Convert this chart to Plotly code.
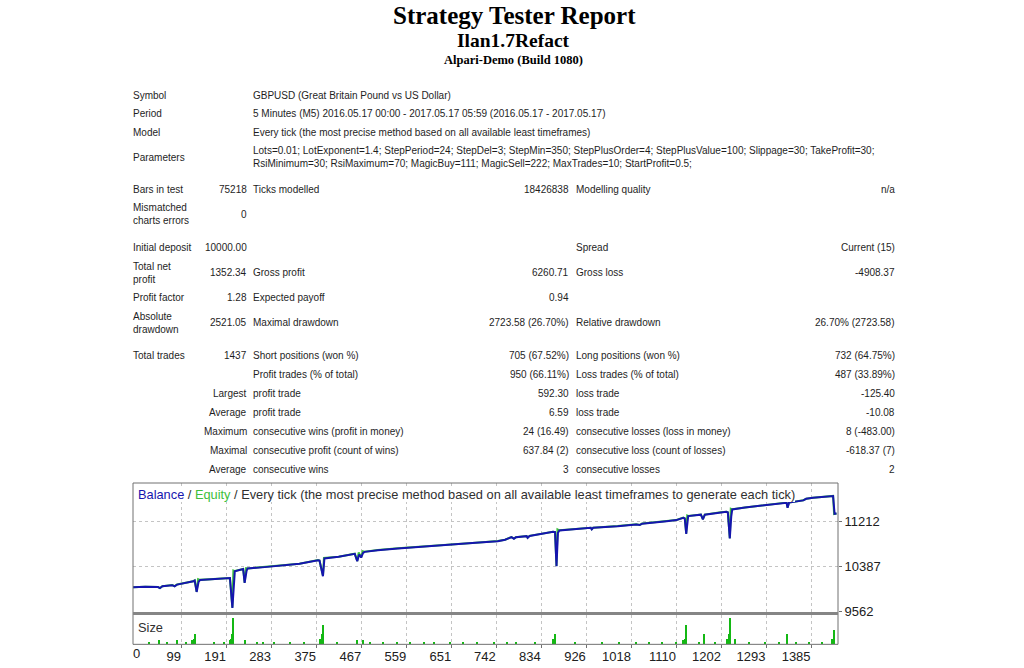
import plotly.graph_objects as go

W, H = 1024, 668
VS = 1.0127   # vertical compensation observed between requested and photographed positions

# ---------------- report header ----------------
title_main = "Strategy Tester Report"
title_ea = "Ilan1.7Refact"
title_server = "Alpari-Demo (Build 1080)"

# ---------------- info block ----------------
info_labels = ["Symbol", "Period", "Model", "Parameters"]
info_values = [
    "GBPUSD (Great Britain Pound vs US Dollar)",
    "5 Minutes (M5) 2016.05.17 00:00 - 2017.05.17 05:59 (2016.05.17 - 2017.05.17)",
    "Every tick (the most precise method based on all available least timeframes)",
    "Lots=0.01; LotExponent=1.4; StepPeriod=24; StepDel=3; StepMin=350; StepPlusOrder=4; "
    "StepPlusValue=100; Slippage=30; TakeProfit=30;<br>"
    "RsiMinimum=30; RsiMaximum=70; MagicBuy=111; MagicSell=222; MaxTrades=10; StartProfit=0.5;",
]

# ---------------- statistics block (6 columns) ----------------
stats_rows = [
    ["Bars in test", "75218", "Ticks modelled", "18426838", "Modelling quality", "n/a"],
    ["Mismatched<br>charts errors", "0", "", "", "", ""],
    ["Initial deposit", "10000.00", "", "", "Spread", "Current (15)"],
    ["Total net<br>profit", "1352.34", "Gross profit", "6260.71", "Gross loss", "-4908.37"],
    ["Profit factor", "1.28", "Expected payoff", "0.94", "", ""],
    ["Absolute<br>drawdown", "2521.05", "Maximal drawdown", "2723.58 (26.70%)",
     "Relative drawdown", "26.70% (2723.58)"],
    ["Total trades", "1437", "Short positions (won %)", "705 (67.52%)",
     "Long positions (won %)", "732 (64.75%)"],
    ["", "", "Profit trades (% of total)", "950 (66.11%)",
     "Loss trades (% of total)", "487 (33.89%)"],
    ["", "Largest", "profit trade", "592.30", "loss trade", "-125.40"],
    ["", "Average", "profit trade", "6.59", "loss trade", "-10.08"],
    ["", "Maximum", "consecutive wins (profit in money)", "24 (16.49)",
     "consecutive losses (loss in money)", "8 (-483.00)"],
    ["", "Maximal", "consecutive profit (count of wins)", "637.84 (2)",
     "consecutive loss (count of losses)", "-618.37 (7)"],
    ["", "Average", "consecutive wins", "3", "consecutive losses", "2"],
]

# ---------------- chart data ----------------
trade_ticks = [99, 191, 283, 375, 467, 559, 651, 742, 834, 926, 1018, 1110, 1202, 1293, 1385]
balance_ticks = [9562, 10387, 11212]

balance_t = [0, 25, 51, 55, 60, 80, 85, 90, 123, 126, 130, 134, 137, 175, 194, 198, 203, 206, 208,
             225, 228, 232, 234, 269, 290, 300, 340, 378, 381, 388, 391, 420, 453, 458, 462, 466,
             470, 473, 500, 541, 580, 620, 650, 700, 745, 760, 773, 778, 782, 804, 806, 810, 858,
             862, 865, 868, 871, 900, 935, 937, 940, 990, 1028, 1035, 1040, 1090, 1110, 1124, 1127,
             1130, 1133, 1134, 1160, 1164, 1168, 1200, 1212, 1215, 1219, 1222, 1224, 1250, 1273,
             1300, 1335, 1337, 1340, 1369, 1375, 1389, 1410, 1430, 1433, 1437]
balance_v = [10000, 10010, 10005, 9985, 10020, 10040, 10020, 10050, 10110, 10125, 9916, 10100, 10135,
             10165, 10175, 10170, 9623, 10150, 10296, 10335, 10081, 10300, 10345, 10370, 10385, 10400,
             10430, 10497, 10490, 10204, 10528, 10560, 10613, 10479, 10600, 10545, 10630, 10649, 10680,
             10712, 10740, 10770, 10785, 10815, 10845, 10870, 10919, 10890, 10915, 10937, 10905, 10940,
             11016, 11010, 10387, 11000, 11041, 11060, 11089, 11060, 11090, 11120, 11151, 11140, 11165,
             11210, 11230, 11273, 11260, 10979, 11240, 11304, 11330, 11243, 11330, 11370, 11382, 11370,
             10895, 11300, 11426, 11460, 11487, 11515, 11548, 11456, 11550, 11591, 11620, 11639, 11655,
             11670, 11346, 11352]

equity_t = [0, 25, 51, 55, 60, 80, 85, 90, 123, 126, 130, 133, 137, 175, 194, 198, 203, 205, 208,
            225, 228, 231, 234, 269, 290, 300, 340, 378, 381, 388, 390, 420, 453, 458, 461, 466,
            469, 473, 500, 541, 580, 620, 650, 700, 745, 760, 773, 778, 782, 804, 806, 810, 858,
            862, 865, 867, 871, 900, 935, 937, 940, 990, 1028, 1035, 1040, 1090, 1110, 1124, 1127,
            1130, 1132, 1134, 1160, 1164, 1168, 1200, 1212, 1215, 1219, 1221, 1224, 1250, 1273,
            1300, 1335, 1337, 1340, 1369, 1375, 1389, 1410, 1430, 1432, 1437]
equity_v = [10000, 10012, 10008, 9988, 10022, 10042, 10022, 10052, 10112, 10128, 9920, 10150, 10137,
            10167, 10178, 10172, 9630, 10310, 10298, 10337, 10085, 10350, 10347, 10372, 10387, 10402,
            10432, 10499, 10492, 10210, 10540, 10562, 10615, 10482, 10640, 10548, 10660, 10651, 10682,
            10714, 10742, 10772, 10787, 10817, 10847, 10872, 10921, 10893, 10917, 10939, 10908, 10942,
            11018, 11012, 10392, 11060, 11043, 11062, 11091, 11063, 11092, 11122, 11153, 11143, 11167,
            11212, 11232, 11275, 11263, 10985, 11315, 11306, 11332, 11247, 11332, 11372, 11384, 11373,
            10900, 11440, 11428, 11462, 11489, 11517, 11550, 11460, 11552, 11593, 11622, 11641, 11657,
            11672, 11340, 11350]

size_t = [33, 53, 70, 91, 108, 122, 125, 128, 165, 186, 199, 201, 203, 205, 230, 254, 267, 288, 322,
          349, 383, 386, 389, 417, 458, 471, 485, 512, 540, 567, 594, 615, 648, 675, 703, 737, 764,
          782, 822, 859, 863, 904, 959, 993, 1027, 1054, 1081, 1109, 1124, 1127, 1131, 1156, 1166,
          1190, 1214, 1217, 1220, 1231, 1258, 1292, 1319, 1336, 1354, 1381, 1408, 1428, 1432]
size_lots = [0.02, 0.03, 0.02, 0.03, 0.02, 0.03, 0.04, 0.08, 0.02, 0.02, 0.03, 0.04, 0.08, 0.21,
             0.03, 0.02, 0.02, 0.02, 0.02, 0.02, 0.04, 0.08, 0.15, 0.02, 0.03, 0.03, 0.02, 0.02,
             0.02, 0.02, 0.02, 0.02, 0.02, 0.02, 0.02, 0.02, 0.02, 0.02, 0.02, 0.04, 0.08, 0.02,
             0.02, 0.02, 0.02, 0.02, 0.02, 0.02, 0.03, 0.04, 0.15, 0.02, 0.08, 0.02, 0.04, 0.08,
             0.21, 0.04, 0.02, 0.02, 0.02, 0.08, 0.02, 0.02, 0.02, 0.04, 0.11]

# ---------------- styling / layout helpers ----------------
SANS = "Tahoma, Liberation Sans, Arial, sans-serif"
SERIF = "Liberation Serif, Times New Roman, serif"
TXT = "#1e1e1e"
GRID = "#c4c4c4"
FRAME = "#707070"
BLUE = "#1515ae"
GREEN = "#3cc03c"


def px(x):
    return x / W


def py(y):
    return 1 - (y * VS) / H


annotations = []


def add_text(text, x, y, anchor="left", size=10, family=SANS, color=TXT, **kw):
    annotations.append(dict(text=text, x=px(x), y=py(y), xref="paper", yref="paper",
                            xanchor=anchor, yanchor="middle", showarrow=False,
                            borderpad=0, borderwidth=0,
                            font=dict(family=family, size=size, color=color), align=anchor, **kw))


# header
add_text("<b>" + title_main + "</b>", 514, 15, "center", 25, SERIF, "#000")
add_text("<b>" + title_ea + "</b>", 513, 40, "center", 19.5, SERIF, "#000")
add_text("<b>" + title_server + "</b>", 513, 59.5, "center", 12.5, SERIF, "#000")

info_y = [95, 113.5, 132.3, 157]
for lab, val, y in zip(info_labels, info_values, info_y):
    add_text(lab, 133, y)
    add_text(val, 253, y)

row_y = [188.7, 213.7, 246.8, 272, 297.2, 322, 355, 374, 392.8, 411.6, 430.6, 449.3, 468.2]
col_x = [133, 247, 253, 569, 576, 895]
col_anchor = ["left", "right", "left", "right", "left", "right"]
for row, y in zip(stats_rows, row_y):
    for cell, x, a in zip(row, col_x, col_anchor):
        if cell:
            add_text(cell, x, y, a)

# chart captions
legend_html = ("<span style='color:%s'>Balance</span> / <span style='color:%s'>Equity</span>"
               " / Every tick (the most precise method based on all available least timeframes"
               " to generate each tick)") % (BLUE, GREEN)
add_text(legend_html, 138, 493, "left", 12.8, SANS, "#303030", bgcolor="white")
add_text("Size", 138, 626, "left", 12.8, SANS, "#303030")

fig = go.Figure()
fig.add_trace(go.Scatter(x=equity_t, y=equity_v, mode="lines", name="Equity",
                         line=dict(color=GREEN, width=2), xaxis="x2", yaxis="y"))
fig.add_trace(go.Scatter(x=balance_t, y=balance_v, mode="lines", name="Balance",
                         line=dict(color=BLUE, width=2), xaxis="x2", yaxis="y"))
fig.add_trace(go.Bar(x=size_t, y=size_lots, width=3, name="Size",
                     marker=dict(color="#14b814", line=dict(width=0)), xaxis="x", yaxis="y2"))

x_dom = [px(133), px(838)]
x_range = [0, 1440]
tickfont = dict(family=SANS, size=13, color="#202020")

shapes = [
    dict(type="rect", xref="paper", yref="paper", x0=px(133), x1=px(838), y0=py(643), y1=py(482),
         line=dict(color=FRAME, width=1), layer="above"),
    dict(type="line", xref="paper", yref="paper", x0=px(133), x1=px(838), y0=py(612.3), y1=py(612.3),
         line=dict(color="#858585", width=3), layer="above"),
]

fig.update_layout(
    width=W, height=H, autosize=False,
    margin=dict(l=0, r=0, t=0, b=0, pad=0),
    paper_bgcolor="white", plot_bgcolor="white",
    showlegend=False, bargap=0,
    annotations=annotations, shapes=shapes,
    xaxis=dict(domain=x_dom, anchor="y2", range=x_range, tickvals=trade_ticks,
               ticktext=[str(t) for t in trade_ticks], ticklabelposition="outside left",
               ticks="outside", ticklen=3, tickcolor=FRAME, tickfont=tickfont,
               showgrid=True, gridcolor=GRID, griddash="dot", gridwidth=1,
               zeroline=False, showline=False),
    xaxis2=dict(domain=x_dom, anchor="y", matches="x", tickvals=trade_ticks,
                showticklabels=False, ticks="", showgrid=True, gridcolor=GRID,
                griddash="dot", gridwidth=1, zeroline=False, showline=False),
    xaxis3=dict(overlaying="x", anchor="y2", range=x_range, tickvals=[0], ticktext=["0"],
                ticklabelposition="outside right", ticks="", tickfont=tickfont,
                showgrid=False, zeroline=False, showline=False),
    yaxis=dict(domain=[py(611), py(482)], anchor="x2", side="right", range=[9544, 11909],
               tickvals=balance_ticks, ticktext=[str(v) for v in balance_ticks],
               ticks="outside", ticklen=3, tickcolor=FRAME, tickfont=tickfont,
               showgrid=True, gridcolor=GRID, griddash="dot", gridwidth=1,
               zeroline=False, showline=False),
    yaxis2=dict(domain=[py(643), py(614)], anchor="x", range=[0, 0.234],
                showticklabels=False, ticks="", showgrid=False, zeroline=False, showline=False),
)

# empty trace on the overlay axis so that xaxis3 (the "0" label) is drawn
fig.add_trace(go.Scatter(x=[], y=[], xaxis="x3", yaxis="y2", showlegend=False, hoverinfo="skip"))

page_fix = "document.body.style.margin='0';"

fig.write_html("out.html", config={"displayModeBar": False}, post_script=page_fix)
